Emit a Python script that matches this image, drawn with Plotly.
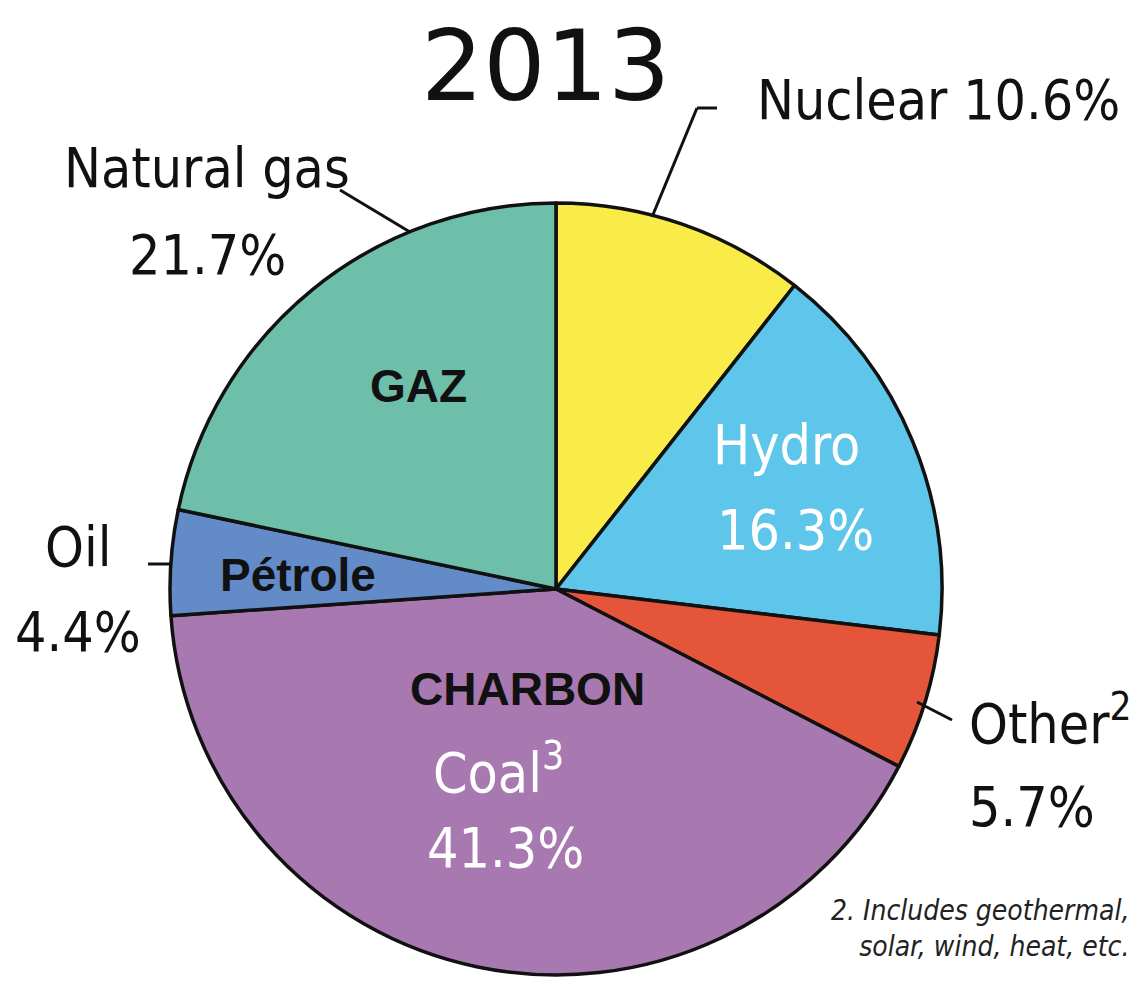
import plotly.graph_objects as go

# the page body has an 8px margin, so the figure is drawn 8px smaller and
# every pixel position below is measured on the 1137x987 window
OFF = 8
W, H = 1137 - OFF, 987 - OFF

# data, clockwise from 12 o'clock
sources = ["Nuclear", "Hydro", "Other", "Coal", "Oil", "Natural gas"]
shares = [10.6, 16.3, 5.7, 41.3, 4.4, 21.7]
french = ["", "", "", "CHARBON", "Pétrole", "GAZ"]
year = "2013"
footnote = "2. Includes geothermal,<br>solar, wind, heat, etc."

COLORS = ["#F9EC48", "#5EC5EB", "#E4553A", "#A878B0", "#628BC8", "#6DBFA9"]
LABEL_FONT = "DejaVu Sans Condensed, sans-serif"
BOLD = "Liberation Sans, Arial, sans-serif"
INK = "#111111"
BIG = 55

# pie placement in window pixels
CX, CY, R = 556, 589, 386


def px(x):
    return (x - OFF) / W


def py(y):
    return 1 - (y - OFF) / H


fig = go.Figure(go.Pie(
    labels=sources, values=shares,
    sort=False, direction="clockwise", rotation=0,
    marker=dict(colors=COLORS, line=dict(color=INK, width=3.5)),
    textinfo="none", hoverinfo="label+percent",
    domain=dict(x=[px(CX - R), px(CX + R)], y=[py(CY + R), py(CY - R)]),
    showlegend=False,
))

ann = []


def text(x, y, s, size=BIG, color=INK, family=LABEL_FONT, xanchor="center"):
    ann.append(dict(x=px(x), y=py(y), xref="paper", yref="paper", text=s,
                    showarrow=False, xanchor=xanchor, yanchor="middle",
                    font=dict(size=size, color=color, family=family)))


def line(x0, y0, x1, y1):
    fig.add_shape(type="line", xref="paper", yref="paper",
                  x0=px(x0), y0=py(y0), x1=px(x1), y1=py(y1),
                  line=dict(color=INK, width=3))


# title
text(545, 66, year, size=98, family="DejaVu Sans, sans-serif")

# outside labels
text(207, 168, sources[5])
text(207, 255, f"{shares[5]}%")
text(938, 100, f"{sources[0]} {shares[0]}%")
text(78, 547, sources[4])
text(78, 632, f"{shares[4]}%")
text(967, 720, f"{sources[2]}<sup>2</sup>", xanchor="left")
text(967, 807, f"{shares[2]}%", xanchor="left")

# inside labels
text(786, 445, sources[1], color="white")
text(795, 530, f"{shares[1]}%", color="white")
text(498, 769, f"{sources[3]}<sup>3</sup>", color="white")
text(505, 848, f"{shares[3]}%", color="white")

# french labels
text(418, 386, f"<b>{french[5]}</b>", size=46, family=BOLD)
text(298, 575, f"<b>{french[4]}</b>", size=46, family=BOLD)
text(527, 689, f"<b>{french[3]}</b>", size=46, family=BOLD)

# leader lines
line(340, 190, 410, 232)
line(717, 108, 697, 108)
line(697, 108, 652, 217)
line(148, 564, 172, 564)
line(917, 702, 952, 720)

# footnote on white box
ann.append(dict(x=px(1134), y=py(928), xref="paper", yref="paper", text=f"<i>{footnote}</i>",
                showarrow=False, xanchor="right", yanchor="middle", align="right",
                bgcolor="white", borderpad=4,
                font=dict(size=28, color="#222222", family=LABEL_FONT)))

fig.update_layout(
    width=W, height=H,
    paper_bgcolor="white", plot_bgcolor="white",
    margin=dict(l=0, r=0, t=0, b=0),
    annotations=ann,
)

fig.write_html("out.html")
